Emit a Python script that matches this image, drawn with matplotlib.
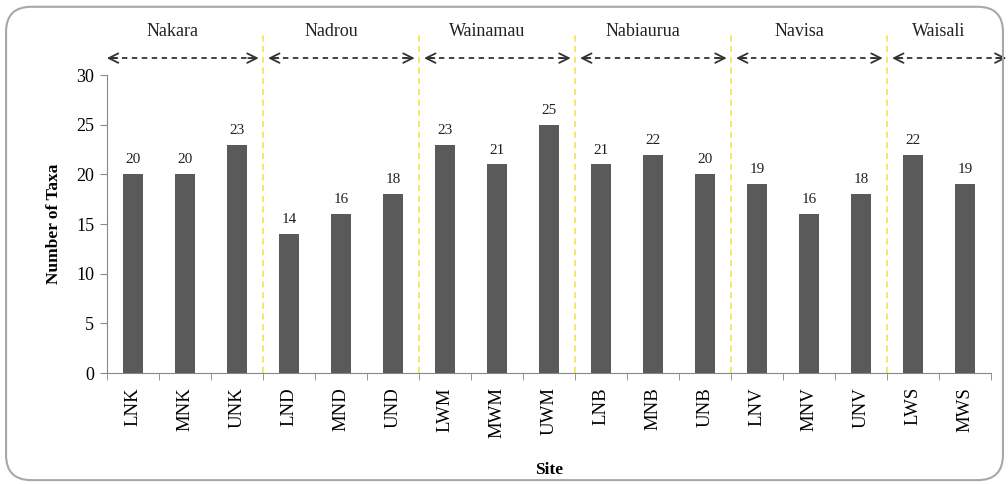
import matplotlib.pyplot as plt
from matplotlib.patches import FancyBboxPatch

sites = ['LNK', 'MNK', 'UNK', 'LND', 'MND', 'UND', 'LWM', 'MWM', 'UWM',
         'LNB', 'MNB', 'UNB', 'LNV', 'MNV', 'UNV', 'LWS', 'MWS']
taxa = [20, 20, 23, 14, 16, 18, 23, 21, 25, 21, 22, 20, 19, 16, 18, 22, 19]
groups = ['Nakara', 'Nadrou', 'Wainamau', 'Nabiaurua', 'Navisa', 'Waisali']
group_sizes = [3, 3, 3, 3, 3, 2]

plt.rcParams['font.family'] = ['Liberation Serif', 'DejaVu Serif']

fig = plt.figure(figsize=(10.08, 4.84), dpi=100)
ax = fig.add_axes([0.106, 0.229, 0.877, 0.616])

# rounded frame around the whole chart
frame = FancyBboxPatch((0.006, 0.008), 0.989, 0.978, boxstyle='round,pad=0,rounding_size=0.025',
                       transform=fig.transFigure, fill=False, edgecolor='#a8a8a8', lw=1.5,
                       mutation_aspect=1008 / 484)
fig.patches.append(frame)

x = list(range(len(sites)))
ax.bar(x, taxa, width=0.38, color='#5a5a5a', zorder=3)
for xi, v in zip(x, taxa):
    ax.text(xi, v + 0.8, str(v), ha='center', va='bottom', fontsize=11, color='#222222')

ax.set_xlim(-0.5, len(sites) - 0.5)
ax.set_ylim(0, 30)
ax.set_yticks(range(0, 31, 5))
ax.set_xticks(x)
ax.set_xticklabels(sites, rotation=90, fontsize=13.5)
ax.set_xticks([i - 0.5 for i in range(len(sites) + 1)], minor=True)
ax.tick_params(axis='x', which='major', length=0, pad=10)
ax.tick_params(axis='x', which='minor', length=5, color='#888888', direction='out')
ax.tick_params(axis='y', length=5, color='#888888', labelsize=13, pad=4)
for s in ['top', 'right']:
    ax.spines[s].set_visible(False)
for s in ['left', 'bottom']:
    ax.spines[s].set_color('#888888')
ax.set_ylabel('Number of Taxa', fontsize=12.5, fontweight='bold', labelpad=10)
ax.set_xlabel('Site', fontsize=12.5, fontweight='bold', labelpad=17)

# group separators, arrows and names
start = -0.5
for i, (g, n) in enumerate(zip(groups, group_sizes)):
    end = start + n
    if i < len(groups) - 1:
        ax.plot([end, end], [0, 34.2], color='#f0e040', lw=1.1, ls=(0, (4, 3)),
                clip_on=False, zorder=2)
    a = start + (0.0 if i == 0 else 0.1)
    b = end - 0.08 if i < len(groups) - 1 else end + 0.3
    ax.plot([a + 0.1, b - 0.1], [31.7, 31.7], color='#333333', lw=1.3, ls=(0, (3, 2.5)),
            clip_on=False)
    ax.annotate('', xy=(a, 31.7), xytext=(a + 0.2, 31.7),
                arrowprops=dict(arrowstyle='->', color='#333333', lw=1.3,
                                shrinkA=0, shrinkB=0, mutation_scale=17),
                annotation_clip=False)
    ax.annotate('', xy=(b, 31.7), xytext=(b - 0.2, 31.7),
                arrowprops=dict(arrowstyle='->', color='#333333', lw=1.3,
                                shrinkA=0, shrinkB=0, mutation_scale=17),
                annotation_clip=False)
    ax.text((a + b) / 2 - 0.2, 34.4, g, ha='center', va='center', fontsize=13, color='#222222')
    start = end

fig.savefig('out.png', dpi=100)
